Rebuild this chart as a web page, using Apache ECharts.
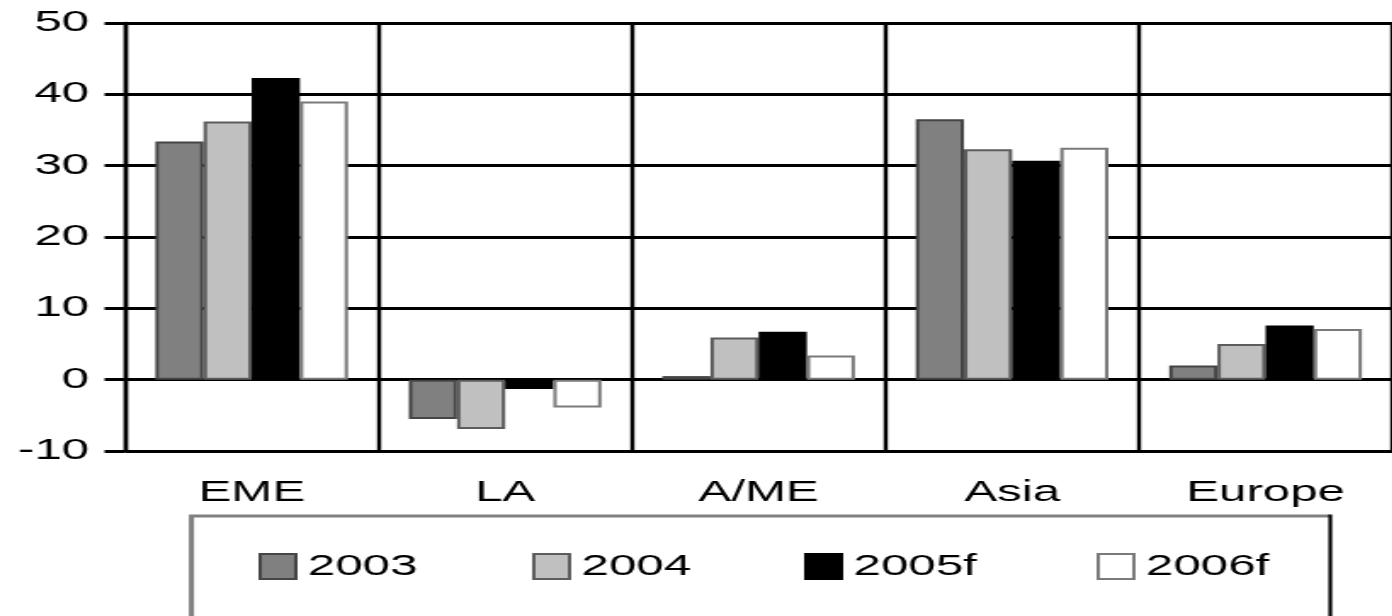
<!DOCTYPE html>
<html>
<head>
<meta charset="utf-8">
<script src="https://cdn.jsdelivr.net/npm/echarts@6/dist/echarts.min.js"></script>
<style>
  html, body { margin: 0; padding: 0; background: #fff; overflow: hidden; }
  /* chart is laid out narrow and widened horizontally, giving the wide lettering */
  #chart { width: 819px; height: 616px; transform: scaleX(1.7); transform-origin: 0 0; }
</style>
</head>
<body>
<div id="chart"></div>
<script>
// Regions and yearly values (per cent)
const categories = ['EME', 'LA', 'A/ME', 'Asia', 'Europe'];
const seriesNames = ['2003', '2004', '2005f', '2006f'];
const values2003 = [33.4, -5.5, 0.5, 36.5, 2.0];
const values2004 = [36.2, -6.9, 5.9, 32.3, 5.0];
const values2005f = [42.3, -1.3, 6.7, 30.7, 7.6];
const values2006f = [39.0, -3.9, 3.4, 32.5, 7.1];
const yTicks = { min: -10, max: 50, interval: 10 };

const font = "'Liberation Sans', Arial, Helvetica, sans-serif";
const seriesValues = [values2003, values2004, values2005f, values2006f];
const fills = ['#808080', '#c0c0c0', '#000000', '#ffffff'];
const borders = ['#454545', '#5c5c5c', '#000000', '#7a7a7a'];
const legendLeft = [152, 313, 473, 645];

const chart = echarts.init(document.getElementById('chart'), null, { renderer: 'canvas' });

chart.setOption({
  animation: false,
  backgroundColor: '#ffffff',
  grid: { left: 73.5, top: 23, width: 750, height: 428 },
  xAxis: {
    type: 'category',
    data: categories,
    boundaryGap: true,
    axisLine: { show: false, onZero: false },
    axisTick: { show: false },
    axisLabel: { color: '#000', fontFamily: font, fontSize: 29, margin: 27, interval: 0 },
    splitLine: { show: true, interval: 0, lineStyle: { color: '#000', width: 2.4 } }
  },
  yAxis: {
    type: 'value',
    min: yTicks.min,
    max: yTicks.max,
    interval: yTicks.interval,
    axisLine: { show: true, lineStyle: { color: '#000', width: 2.4 } },
    axisTick: { show: true, length: 12, lineStyle: { color: '#000', width: 3 } },
    axisLabel: { color: '#000', fontFamily: font, fontSize: 29, margin: 21 },
    splitLine: { show: true, lineStyle: { color: '#000', width: 3 } }
  },
  legend: seriesNames.map((name, i) => ({
    data: [name],
    left: legendLeft[i],
    top: 552,
    padding: 0,
    itemWidth: 21,
    itemHeight: 25,
    itemGap: 0,
    icon: 'rect',
    selectedMode: false,
    textStyle: { color: '#000', fontFamily: font, fontSize: 29, padding: [0, 0, 0, 2] }
  })),
  graphic: [
    {
      type: 'polyline',
      silent: true,
      shape: { points: [[112.6, 640], [112.6, 516], [782, 516]] },
      style: { fill: null, stroke: '#808080', lineWidth: 3 }
    },
    {
      type: 'line',
      silent: true,
      shape: { x1: 782.5, y1: 514.5, x2: 782.5, y2: 640 },
      style: { stroke: '#000', lineWidth: 2.2 }
    }
  ],
  series: seriesNames.map((name, i) => ({
    name: name,
    type: 'bar',
    data: seriesValues[i],
    barGap: '0%',
    barCategoryGap: '24%',
    itemStyle: { color: fills[i], borderColor: borders[i], borderWidth: 2 }
  }))
});
</script>
</body>
</html>
